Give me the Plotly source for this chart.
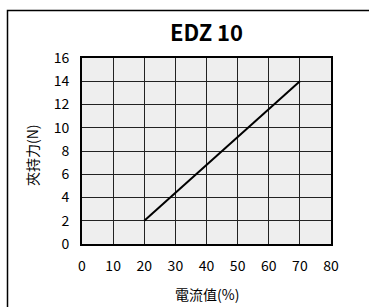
import plotly.graph_objects as go

current_pct = [20, 70]
force_n = [2, 14]
x_ticks = [0, 10, 20, 30, 40, 50, 60, 70, 80]
y_ticks = [0, 2, 4, 6, 8, 10, 12, 14, 16]

FONT = "Noto Sans CJK TC"
L, R, T, B = 82, 331, 58, 244  # plot area in page pixels
PW, PH = R - L, B - T

fig = go.Figure()
fig.add_trace(go.Scatter(x=current_pct, y=force_n, mode="lines",
                         line=dict(color="black", width=2), showlegend=False,
                         hoverinfo="skip"))

fig.update_layout(
    width=369, height=307,
    margin=dict(l=L, r=369 - R, t=T, b=307 - B),
    paper_bgcolor="white", plot_bgcolor="#eeeeee",
    font=dict(family=FONT, size=14, color="black"),
    title=dict(text="<b>EDZ 10</b>", x=(L + R) / 2 / 369, xanchor="center",
               y=1 - 33 / 307, yanchor="middle",
               font=dict(family=FONT, size=22, color="black")),
    xaxis=dict(range=[0, 80], tickvals=x_ticks, ticktext=[str(v) for v in x_ticks],
               showgrid=True, gridcolor="#222222", gridwidth=1,
               showline=True, linecolor="black", linewidth=2, mirror=True,
               zeroline=False, ticks="", ticklen=0, ticklabelstandoff=8,
               automargin=False),
    yaxis=dict(range=[0, 16], tickvals=y_ticks, ticktext=[str(v) for v in y_ticks],
               showgrid=True, gridcolor="#222222", gridwidth=1,
               showline=True, linecolor="black", linewidth=2, mirror=True,
               zeroline=False, ticks="", ticklen=0, ticklabelstandoff=8,
               automargin=False),
)

fig.add_annotation(text="電流值(%)", xref="paper", yref="paper",
                   x=0.5, y=(B - 294) / PH, xanchor="center", yanchor="middle",
                   showarrow=False, font=dict(size=14))
fig.add_annotation(text="夾持力(N)", xref="paper", yref="paper",
                   x=(32 - L) / PW, y=(B - 155) / PH, xanchor="center", yanchor="middle",
                   textangle=-90, showarrow=False, font=dict(size=14))

# outer frame
fig.add_shape(type="rect", xref="paper", yref="paper",
              x0=(7.5 - L) / PW, x1=1.6, y0=-0.6, y1=1 + (T - 10.5) / PH,
              line=dict(color="black", width=1.5), fillcolor="rgba(0,0,0,0)",
              layer="above")

fig.write_html("out.html", config={"displayModeBar": False},
               post_script="document.body.style.margin='0';document.documentElement.style.margin='0';document.body.style.overflow='hidden';")
